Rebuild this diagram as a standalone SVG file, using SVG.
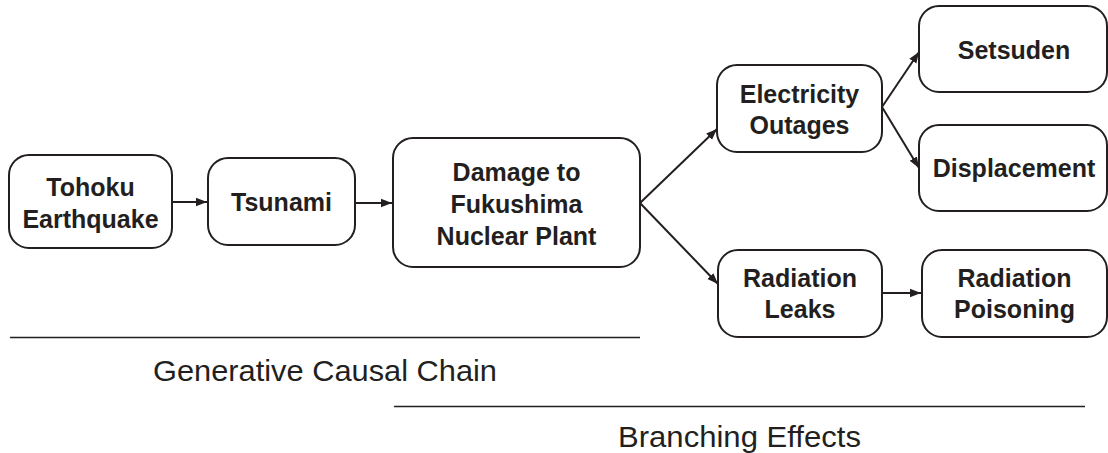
<svg xmlns="http://www.w3.org/2000/svg" width="1108" height="453" viewBox="0 0 1108 453">
<defs>
<style>
.box{fill:#fff;stroke:#231f20;stroke-width:2}
.lbl{font-family:"Liberation Sans",Arial,sans-serif;font-weight:bold;font-size:25px;fill:#231f20;text-anchor:middle}
.cap{font-family:"Liberation Sans",Arial,sans-serif;font-size:29px;fill:#231f20}
.edge{stroke:#231f20;stroke-width:2;fill:none}
.rule{stroke:#231f20;stroke-width:1.5}
</style>
<marker id="ah" markerUnits="userSpaceOnUse" markerWidth="12" markerHeight="10" refX="11" refY="5" orient="auto">
<path d="M0,0.8 L11,5 L0,9.2 Z" fill="#231f20"/>
</marker>
</defs>
<g id="n1"><rect class="box" x="9" y="155" width="163" height="93" rx="20"/><text class="lbl" x="90.5" y="196">Tohoku</text><text class="lbl" x="90.5" y="228">Earthquake</text></g>
<g id="n2"><rect class="box" x="208" y="158" width="147" height="87" rx="20"/><text class="lbl" x="281.5" y="211">Tsunami</text></g>
<g id="n3"><rect class="box" x="393" y="138" width="247" height="129" rx="20"/><text class="lbl" x="516.5" y="181">Damage to</text><text class="lbl" x="516.5" y="213">Fukushima</text><text class="lbl" x="516.5" y="245">Nuclear Plant</text></g>
<g id="n4"><rect class="box" x="717" y="65" width="165" height="87" rx="20"/><text class="lbl" x="799.5" y="103">Electricity</text><text class="lbl" x="799.5" y="134">Outages</text></g>
<g id="n5"><rect class="box" x="919" y="6" width="188" height="86" rx="20"/><text class="lbl" x="1014" y="59">Setsuden</text></g>
<g id="n6"><rect class="box" x="919" y="125" width="188" height="86" rx="20"/><text class="lbl" x="1014" y="177">Displacement</text></g>
<g id="n7"><rect class="box" x="718" y="250" width="164" height="87" rx="20"/><text class="lbl" x="800" y="287">Radiation</text><text class="lbl" x="800" y="318">Leaks</text></g>
<g id="n8"><rect class="box" x="922" y="250" width="185" height="87" rx="20"/><text class="lbl" x="1014.5" y="287">Radiation</text><text class="lbl" x="1014.5" y="318">Poisoning</text></g>
<g id="connectors">
<line class="edge" x1="172" y1="202" x2="207" y2="202" marker-end="url(#ah)"/>
<line class="edge" x1="355" y1="203" x2="392" y2="203" marker-end="url(#ah)"/>
<line class="edge" x1="640" y1="203" x2="717" y2="129" marker-end="url(#ah)"/>
<line class="edge" x1="640" y1="203" x2="718" y2="284" marker-end="url(#ah)"/>
<line class="edge" x1="882" y1="107" x2="919" y2="52" marker-end="url(#ah)"/>
<line class="edge" x1="882" y1="107" x2="919" y2="168" marker-end="url(#ah)"/>
<line class="edge" x1="882" y1="293" x2="921" y2="293" marker-end="url(#ah)"/>
</g>
<g id="captions">
<line class="rule" x1="10" y1="337.5" x2="640" y2="337.5"/>
<text class="cap" x="153" y="381" textLength="344" lengthAdjust="spacingAndGlyphs">Generative Causal Chain</text>
<line class="rule" x1="394" y1="406.5" x2="1085" y2="406.5"/>
<text class="cap" x="618" y="447" textLength="243" lengthAdjust="spacingAndGlyphs">Branching Effects</text>
</g>
</svg>
